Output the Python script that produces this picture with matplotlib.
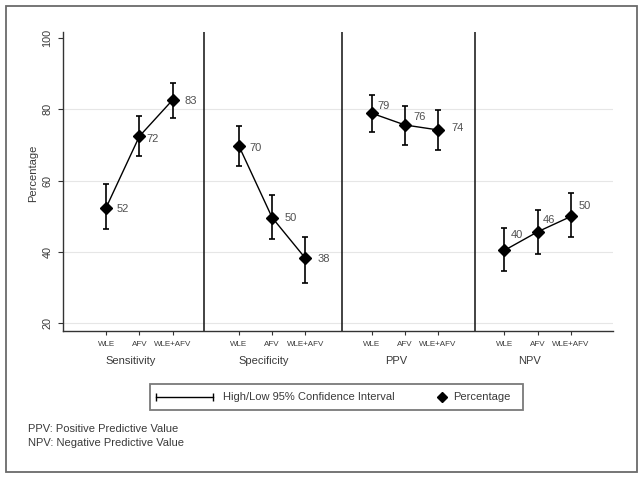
import matplotlib
matplotlib.use("Agg")
import matplotlib.pyplot as plt
import matplotlib.transforms as mtransforms
from matplotlib.patches import Rectangle
from matplotlib.lines import Line2D

plt.rcParams['font.family'] = ['Liberation Sans', 'DejaVu Sans']

groups = ["Sensitivity", "Specificity", "PPV", "NPV"]
methods = ["WLE", "AFV", "WLE+AFV"]
pct = [
    [52.4, 72.4, 82.6],
    [69.7, 49.6, 38.2],
    [78.9, 75.6, 74.2],
    [40.4, 45.6, 49.9],
]
ci_low = [
    [46.3, 67.0, 77.6],
    [64.1, 43.5, 31.3],
    [73.7, 70.0, 68.7],
    [34.5, 39.5, 44.1],
]
ci_high = [
    [58.9, 78.1, 87.3],
    [75.3, 55.8, 44.1],
    [83.9, 80.9, 79.8],
    [46.7, 51.6, 56.4],
]
yticks = [20, 40, 60, 80, 100]

# label offsets (pixels) per point: (dx, dy)
label_off = [
    [(10, -1), (7, -3), (12, -1)],
    [(10, -2), (12, 0), (12, -1)],
    [(6, 7), (9, 8), (13, 2)],
    [(6, 15), (5, 12), (8, 10)],
]
dividers = [2.95, 7.1, 11.1]

W, H = 643, 479
fig = plt.figure(figsize=(W / 100, H / 100), dpi=100)
ax = fig.add_axes([63 / W, 1 - 331 / H, 550 / W, 299 / H])

text_col = '#3a3a3a'
positions = []
labels = []
for g, grp in enumerate(groups):
    xs = [4 * g + j for j in range(len(methods))]
    positions += xs
    labels += methods
    y = pct[g]
    lo = [y[i] - ci_low[g][i] for i in range(3)]
    hi = [ci_high[g][i] - y[i] for i in range(3)]
    ax.errorbar(xs, y, yerr=[lo, hi], fmt='none', ecolor='black',
                elinewidth=1.2, capsize=2.4, capthick=1.2, zorder=3)
    ax.plot(xs, y, color='black', lw=1.0, zorder=3)
    ax.plot(xs, y, linestyle='none', marker='D', color='black',
            markersize=5.8, zorder=4)
    for i in range(3):
        dx, dy = label_off[g][i]
        ax.annotate(f"{round(y[i])}", (xs[i], y[i]), xytext=(dx, dy),
                    textcoords='offset pixels', ha='left', va='center',
                    fontsize=8, color='#505050')

ax.set_xlim(-1.3, 15.27)
ax.set_ylim(17.75, 101.7)
ax.set_yticks(yticks)
ax.set_yticklabels([str(t) for t in yticks], rotation=90, va='center',
                   fontsize=7.8, color=text_col)
ax.set_xticks(positions)
ax.set_xticklabels(labels, fontsize=5.8, color=text_col)
ax.tick_params(axis='x', length=3.1, width=0.8, pad=4.4, color='#333333')
ax.tick_params(axis='y', length=3.8, width=0.8, pad=3.9, color='#333333')

for v in yticks[:-1]:
    ax.axhline(v, color='#e6e6e6', lw=0.8, zorder=0)
for d in dividers:
    ax.axvline(d, color='#222222', lw=1.2, zorder=2)

for s in ['top', 'right']:
    ax.spines[s].set_visible(False)
for s in ['left', 'bottom']:
    ax.spines[s].set_color('#333333')
    ax.spines[s].set_linewidth(1.0)

ax.set_ylabel("Percentage", fontsize=8, color=text_col)
ax.yaxis.set_label_coords(-0.046, 0.528)

trans = mtransforms.blended_transform_factory(ax.transData, fig.transFigure)
for g, grp in enumerate(groups):
    ax.text(4 * g + 1 - 0.25, 1 - 361 / H, grp, transform=trans,
            ha='center', va='center', fontsize=8, color=text_col)

# legend (drawn manually)
fig.add_artist(Rectangle((150 / W, 1 - 410 / H), 373 / W, 26 / H,
                         transform=fig.transFigure, fill=False,
                         edgecolor='#7a7a7a', lw=1.3))
ly = 1 - 397 / H
fig.add_artist(Line2D([156 / W, 213 / W], [ly, ly], transform=fig.transFigure,
                      color='black', lw=1.0, marker='|', markersize=6,
                      markeredgewidth=1.0))
fig.text(223 / W, ly, "High/Low 95% Confidence Interval", ha='left',
         va='center', fontsize=8, color=text_col)
fig.add_artist(Line2D([441.5 / W], [ly], transform=fig.transFigure,
                      color='black', marker='D', markersize=5,
                      linestyle='none'))
fig.text(453 / W, ly, "Percentage", ha='left', va='center', fontsize=8,
         color=text_col)

fig.text(28 / W, 1 - 429.5 / H, "PPV: Positive Predictive Value", ha='left',
         va='center', fontsize=8, color=text_col)
fig.text(28 / W, 1 - 443.5 / H, "NPV: Negative Predictive Value", ha='left',
         va='center', fontsize=8, color=text_col)

# outer border
fig.add_artist(Rectangle((6 / W, 1 - 472 / H), 631 / W, 466 / H,
                         transform=fig.transFigure, fill=False,
                         edgecolor='#6a6a6a', lw=1.3))

fig.savefig("out.png", dpi=100)
